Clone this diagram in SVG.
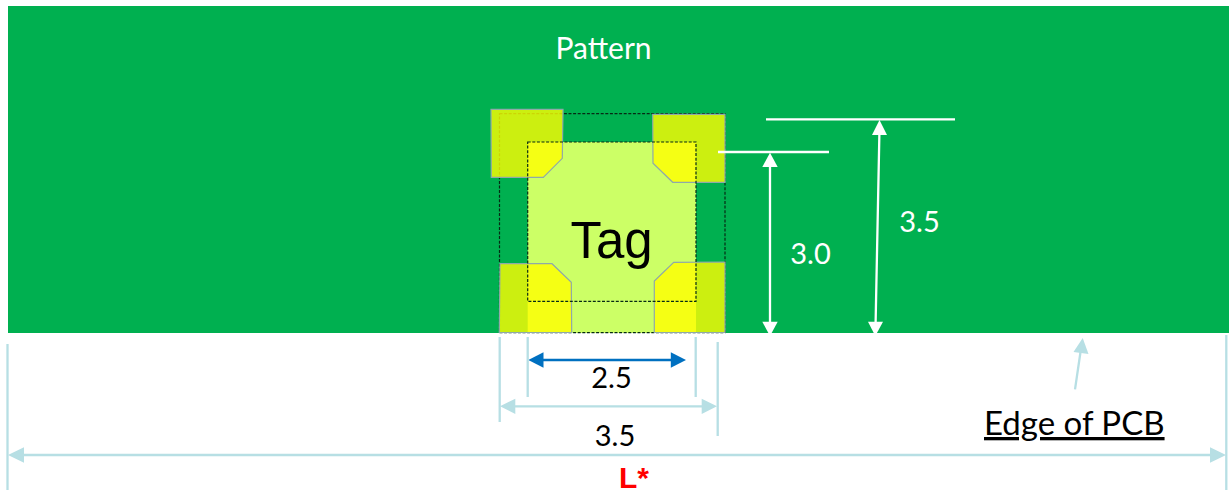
<svg xmlns="http://www.w3.org/2000/svg" width="1229" height="494" viewBox="0 0 1229 494">
<style>
text{font-family:Lato,"Liberation Sans",sans-serif}
.pad{fill:#ffff00;fill-opacity:.8;stroke:#8fa9a9;stroke-width:1.2}
.dash{fill:none;stroke:#062a14;stroke-width:1.2;stroke-dasharray:3 1.6}
.w{stroke:#fff;stroke-width:2.3;fill:none}
.b{stroke:#0070c0;stroke-width:2.3;fill:none}
.l{stroke:#b7dfe4;stroke-width:2.3;fill:none}
.wh{fill:#fff}.bh{fill:#0070c0}.lh{fill:#b7dfe4}
</style>
<rect width="1229" height="494" fill="#fff"/>
<g id="pcb"><rect x="8" y="6" width="1221" height="327" fill="#00b050"/>
<text x="603.500" y="59" font-size="30" fill="#fff" text-anchor="middle">Pattern</text></g>
<g id="tag">
<rect x="527.700" y="142" width="168.300" height="191" fill="#ccff66"/>
<rect class="dash" x="499.500" y="113.700" width="225.500" height="219"/>
<polygon class="pad" points="491,109.300 563,109.300 562.300,158.300 543.300,177.300 491.300,177.300"/>
<polygon class="pad" points="652.700,114.300 725,114.300 725,182.300 672.700,182.300 653,163.300"/>
<polygon class="pad" points="500,263.700 552,263.700 571.300,282.300 571.700,332.500 499.300,332.500"/>
<polygon class="pad" points="725,262 673.700,262.300 654.300,281 654.300,332.500 725,332.500"/>
<rect class="dash" x="527.700" y="142" width="168.300" height="159.300"/>
<text x="611.500" y="258" font-size="51" fill="#000" text-anchor="middle" style="font-family:'Liberation Sans',sans-serif">Tag</text>
</g>
<g id="connectors">
<path class="w" d="M766 119.300H955M718 152H829M770 160V328M879.500 128L875.500 328"/>
<polygon class="wh" points="770,152.700 777.700,167 762.300,167"/>
<polygon class="wh" points="770,336 777.700,321.700 762.300,321.700"/>
<polygon class="wh" points="879.500,120 887,135 872,135"/>
<polygon class="wh" points="875.300,336 883,321.700 868,321.700"/>
<path class="b" d="M538 360H676"/>
<polygon class="bh" points="528.300,360 543.500,352.300 543.500,367.700"/>
<polygon class="bh" points="686,360 670.800,352.300 670.800,367.700"/>
<path class="l" d="M527.700 337V397M695.700 337V397M499.700 337V422M717.700 342V436M7.500 344V490M1226.300 335V490M510 406.300H708M18 455H1216M1075 389.300L1080.500 352"/>
<polygon class="lh" points="500,406.300 515.300,398.700 515.300,414"/>
<polygon class="lh" points="717,406.300 701.700,398.700 701.700,414"/>
<polygon class="lh" points="8,455 24,447.300 24,462.700"/>
<polygon class="lh" points="1226,455 1210,447.300 1210,462.700"/>
<polygon class="lh" points="1082.700,338 1088.500,354 1073.500,352"/>
</g>
<g id="labels">
<text x="810.500" y="264" font-size="29" fill="#fff" text-anchor="middle">3.0</text>
<text x="919.500" y="232" font-size="29" fill="#fff" text-anchor="middle">3.5</text>
<text x="611.500" y="388" font-size="29" fill="#000" text-anchor="middle">2.5</text>
<text x="615" y="446" font-size="29" fill="#000" text-anchor="middle">3.5</text>
<text x="984" y="435" font-size="33" fill="#000" text-decoration="underline">Edge of PCB</text>
<text x="634" y="488" font-size="30" font-weight="bold" fill="#ff0000" text-anchor="middle" style="font-family:'Liberation Sans',sans-serif">L*</text>
</g>
</svg>
